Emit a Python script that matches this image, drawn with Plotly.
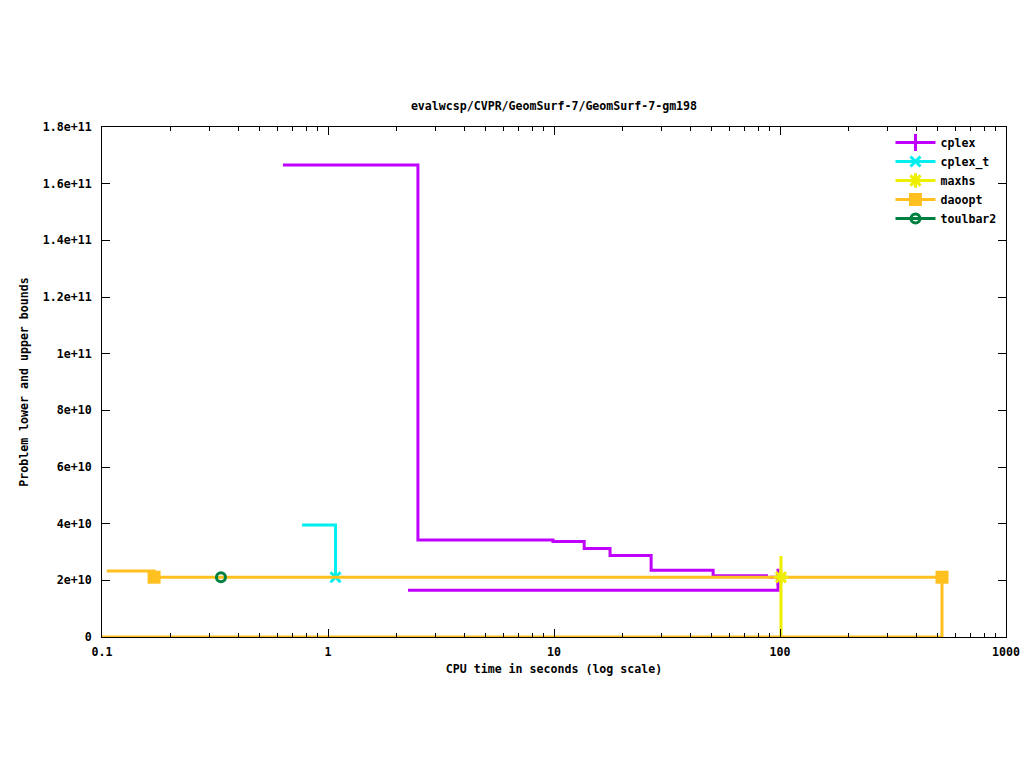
import plotly.graph_objects as go

# ---- data ----
cplex_ub_t = [0.632, 2.50, 9.9, 13.6, 17.7, 26.9, 50.6, 88.5]
cplex_ub_v = [1.666e11, 3.42e10, 3.37e10, 3.12e10, 2.88e10, 2.36e10, 2.16e10, 2.16e10]
cplex_lb_t = [2.26, 98.0]
cplex_lb_v = [1.65e10, 2.11e10]
cplex_pt_t = [98.0]
cplex_pt_v = [2.11e10]

cplext_ub_t = [0.767, 1.08]
cplext_ub_v = [3.95e10, 2.11e10]
cplext_pt_t = [1.08]
cplext_pt_v = [2.11e10]

maxhs_ub_t = [101.0, 101.0]
maxhs_ub_v = [2.86e10, 2.11e10]
maxhs_lb_t = [101.0, 101.0]
maxhs_lb_v = [0.0, 2.11e10]
maxhs_pt_t = [101.0]
maxhs_pt_v = [2.11e10]

daoopt_ub_t = [0.105, 0.17, 521.0]
daoopt_ub_v = [2.33e10, 2.11e10, 2.11e10]
daoopt_lb_t = [0.1, 521.0]
daoopt_lb_v = [0.0, 2.11e10]
daoopt_pt_t = [0.17, 521.0]
daoopt_pt_v = [2.11e10, 2.11e10]

toulbar2_pt_t = [0.336]
toulbar2_pt_v = [2.11e10]

y_ticks = [0, 2e10, 4e10, 6e10, 8e10, 1e11, 1.2e11, 1.4e11, 1.6e11, 1.8e11]
y_tick_labels = ["0", "2e+10", "4e+10", "6e+10", "8e+10", "1e+11", "1.2e+11", "1.4e+11", "1.6e+11", "1.8e+11"]
x_ticks = [0.1, 1, 10, 100, 1000]
x_tick_labels = ["0.1", "1", "10", "100", "1000"]

C_CPLEX = "#c000ff"
C_CPLEXT = "#00eeee"
C_MAXHS = "#eeee00"
C_DAOOPT = "#ffc020"
C_TB2 = "#008040"

FONT = "DejaVu Sans Mono"
FS = 11.6
LW = 3
F = dict(family=FONT, size=FS, color="black", weight="bold")

fig = go.Figure()

def steps(t, v, color, name):
    fig.add_trace(go.Scatter(x=t, y=v, mode="lines", line=dict(color=color, width=LW, shape="hv"),
                             showlegend=False, hoverinfo="skip", name=name))

def pts(t, v, color, symbol, size, name, lw=2):
    fig.add_trace(go.Scatter(x=t, y=v, mode="markers",
                             marker=dict(color=color, symbol=symbol, size=size, line=dict(color=color, width=lw)),
                             showlegend=False, name=name))

# cplex
steps(cplex_ub_t, cplex_ub_v, C_CPLEX, "cplex")
steps(cplex_lb_t, cplex_lb_v, C_CPLEX, "cplex")
pts(cplex_pt_t, cplex_pt_v, C_CPLEX, "cross-thin", 12, "cplex", 3)
# cplex_t
steps(cplext_ub_t, cplext_ub_v, C_CPLEXT, "cplex_t")
pts(cplext_pt_t, cplext_pt_v, C_CPLEXT, "x-thin", 10, "cplex_t", 3)
# maxhs
steps(maxhs_ub_t, maxhs_ub_v, C_MAXHS, "maxhs")
steps(maxhs_lb_t, maxhs_lb_v, C_MAXHS, "maxhs")
# daoopt
steps(daoopt_ub_t, daoopt_ub_v, C_DAOOPT, "daoopt")
steps(daoopt_lb_t, daoopt_lb_v, C_DAOOPT, "daoopt")
pts(daoopt_pt_t, daoopt_pt_v, C_DAOOPT, "square", 13, "daoopt", 0)
pts(maxhs_pt_t, maxhs_pt_v, C_MAXHS, "asterisk", 12, "maxhs", 3)
# toulbar2
pts(toulbar2_pt_t, toulbar2_pt_v, C_TB2, "circle-open", 9, "toulbar2", 3)

# legend entries
legend_spec = [
    ("cplex", C_CPLEX, "cross-thin", 12, 3),
    ("cplex_t", C_CPLEXT, "x-thin", 10, 3),
    ("maxhs", C_MAXHS, "asterisk", 12, 3),
    ("daoopt", C_DAOOPT, "square", 13, 0),
    ("toulbar2", C_TB2, "circle-open", 9, 3),
]
for name, color, sym, size, lw in legend_spec:
    fig.add_trace(go.Scatter(x=[None], y=[None], mode="lines+markers", name=name,
                             line=dict(color=color, width=LW),
                             marker=dict(color=color, symbol=sym, size=size, line=dict(color=color, width=lw))))

fig.update_layout(
    width=1024, height=768,
    margin=dict(l=102, r=18, t=127, b=131, autoexpand=False),
    paper_bgcolor="white", plot_bgcolor="white",
    font=F,
    title=dict(text="evalwcsp/CVPR/GeomSurf-7/GeomSurf-7-gm198", x=0.541, xanchor="center",
               y=1 - 106 / 768, yanchor="middle", yref="container", font=F),
    legend=dict(x=0.995, xanchor="right", y=0.998, yanchor="top", bgcolor="rgba(0,0,0,0)",
                font=F, tracegroupgap=0, itemwidth=40),
    showlegend=True,
)
fig.update_xaxes(type="log", range=[-1, 3], tickvals=x_ticks, ticktext=x_tick_labels, automargin=False,
                 ticks="inside", ticklen=8, tickwidth=1, tickcolor="black", tickfont=F, ticklabelstandoff=4,
                 minor=dict(ticks="inside", ticklen=4, tickcolor="black", showgrid=False, dtick="D1"),
                 showgrid=False, zeroline=False, showline=True, linecolor="black", linewidth=1, mirror="ticks",
                 title=dict(text="CPU time in seconds (log scale)", standoff=6, font=F))
fig.update_yaxes(range=[0, 1.8e11], tickvals=y_ticks, ticktext=y_tick_labels, automargin=False,
                 ticks="inside", ticklen=8, tickwidth=1, tickcolor="black", tickfont=F, ticklabelstandoff=7,
                 showgrid=False, zeroline=False, showline=True, linecolor="black", linewidth=1, mirror="ticks",
                 title=dict(text="Problem lower and upper bounds", standoff=11, font=F))

fig.write_html("out.html", config={"displayModeBar": False},
               post_script="document.body.style.margin='0';document.body.style.padding='0';")
